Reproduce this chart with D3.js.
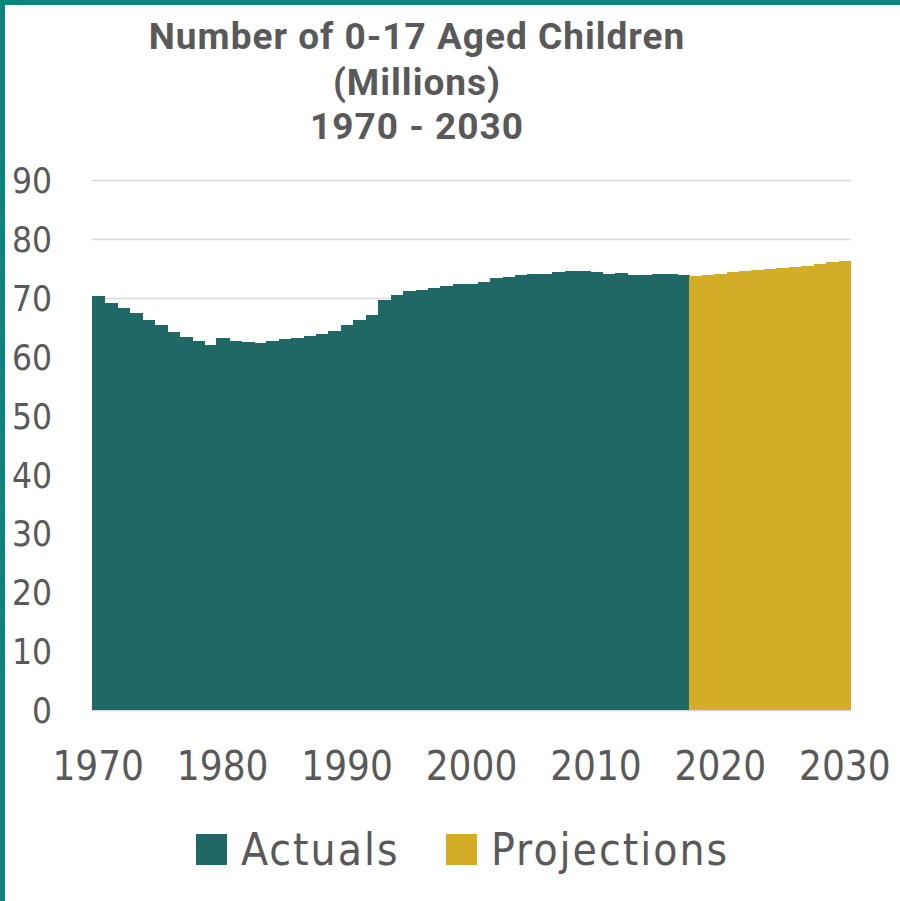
<!DOCTYPE html>
<html>
<head>
<meta charset="utf-8">
<script src="https://cdn.jsdelivr.net/npm/d3@7"></script>
<style>
  html, body { margin: 0; padding: 0; background: #fff; }
  svg { display: block; }
</style>
</head>
<body>
<svg id="chart" width="900" height="901"></svg>
<script>
// ---- data ----
const titleLines = ["Number of 0-17 Aged Children", "(Millions)", "1970 - 2030"];
const actualYears = d3.range(1970, 2018);
const actuals = [70.3, 69.1, 68.3, 67.4, 66.3, 65.4, 64.2, 63.4, 62.6, 61.9,
                 63.1, 62.7, 62.5, 62.4, 62.7, 63.0, 63.2, 63.5, 63.9, 64.4,
                 65.3, 66.2, 67.1, 69.7, 70.5, 71.1, 71.3, 71.7, 72.0, 72.3,
                 72.3, 72.6, 73.3, 73.5, 73.8, 74.0, 74.1, 74.4, 74.5, 74.5,
                 74.3, 74.1, 74.2, 73.9, 73.9, 74.0, 74.0, 73.8];
const projectionYears = d3.range(2018, 2031);
const projections = [73.7, 73.9, 74.1, 74.3, 74.5, 74.7, 74.9, 75.1, 75.2, 75.4, 75.7, 76.0, 76.2];
const yTicks = [0, 10, 20, 30, 40, 50, 60, 70, 80, 90];
const xTickLabels = [1970, 1980, 1990, 2000, 2010, 2020, 2030];
const seriesNames = ["Actuals", "Projections"];
const seriesColors = ["#1f6866", "#d3ad28"];

const allYears = actualYears.concat(projectionYears);
const rows = actualYears.map((y, i) => ({year: y, value: actuals[i], s: 0}))
  .concat(projectionYears.map((y, i) => ({year: y, value: projections[i], s: 1})));

const svg = d3.select("#chart");
const textColor = "#595959";

// frame borders
svg.append("rect").attr("x", 0).attr("y", 0).attr("width", 900).attr("height", 5).attr("fill", "#0c847b");
svg.append("rect").attr("x", 0).attr("y", 0).attr("width", 5).attr("height", 901).attr("fill", "#0c847b");

// title
const title = svg.append("text")
  .attr("text-anchor", "middle")
  .attr("fill", textColor)
  .style("font-family", "Roboto, 'DejaVu Sans', sans-serif")
  .style("font-weight", "bold")
  .style("font-size", "37px")
  .style("letter-spacing", "1px");
const titleY = [49, 95, 139];
titleLines.forEach((t, i) => {
  title.append("tspan").attr("x", 417).attr("y", titleY[i]).text(t);
});

const x = d3.scaleBand().domain(allYears).range([92, 851]).padding(0);
const y = d3.scaleLinear().domain([0, 90]).range([710, 180]);

// gridlines
svg.append("g").selectAll("line").data(yTicks).join("line")
  .attr("x1", 92).attr("x2", 851)
  .attr("y1", d => Math.round(y(d)) + 0.5).attr("y2", d => Math.round(y(d)) + 0.5)
  .attr("stroke", "#d9d9d9").attr("stroke-width", 1.5);

// bars
svg.append("g").attr("shape-rendering", "crispEdges")
  .selectAll("rect").data(rows).join("rect")
  .attr("x", d => x(d.year))
  .attr("width", d => x.bandwidth() + (d.year === 2030 ? 0 : 1))
  .attr("y", d => y(d.value))
  .attr("height", d => y(0) - y(d.value))
  .attr("fill", d => seriesColors[d.s]);

// y axis labels
const yAxis = d3.axisLeft(y).tickValues(yTicks).tickSize(0).tickPadding(0);
const gy = svg.append("g").attr("transform", "translate(52,0)").call(yAxis);
gy.select(".domain").remove();
gy.selectAll("text")
  .attr("fill", textColor)
  .style("font-family", "'DejaVu Sans Condensed', 'DejaVu Sans', sans-serif")
  .style("font-size", "35px")
  .attr("dy", "0.36em");

// x axis labels
const xAxis = d3.axisBottom(x).tickValues(xTickLabels).tickSize(0).tickPadding(0);
const gx = svg.append("g").attr("transform", "translate(0,780)").call(xAxis);
gx.select(".domain").remove();
gx.selectAll("text")
  .attr("fill", textColor)
  .attr("dy", 0)
  .style("font-family", "'DejaVu Sans Condensed', 'DejaVu Sans', sans-serif")
  .style("font-size", "40px");

// legend
const legendX = [196, 446];
const lg = svg.append("g");
seriesNames.forEach((n, i) => {
  lg.append("rect").attr("x", legendX[i]).attr("y", 834).attr("width", 31).attr("height", 31)
    .attr("fill", seriesColors[i]);
  lg.append("text").attr("x", legendX[i] + 45).attr("y", 865)
    .attr("fill", textColor)
    .style("font-family", "'DejaVu Sans Condensed', 'DejaVu Sans', sans-serif")
    .style("font-size", "44px")
    .style("letter-spacing", "2px")
    .text(n);
});
</script>
</body>
</html>
